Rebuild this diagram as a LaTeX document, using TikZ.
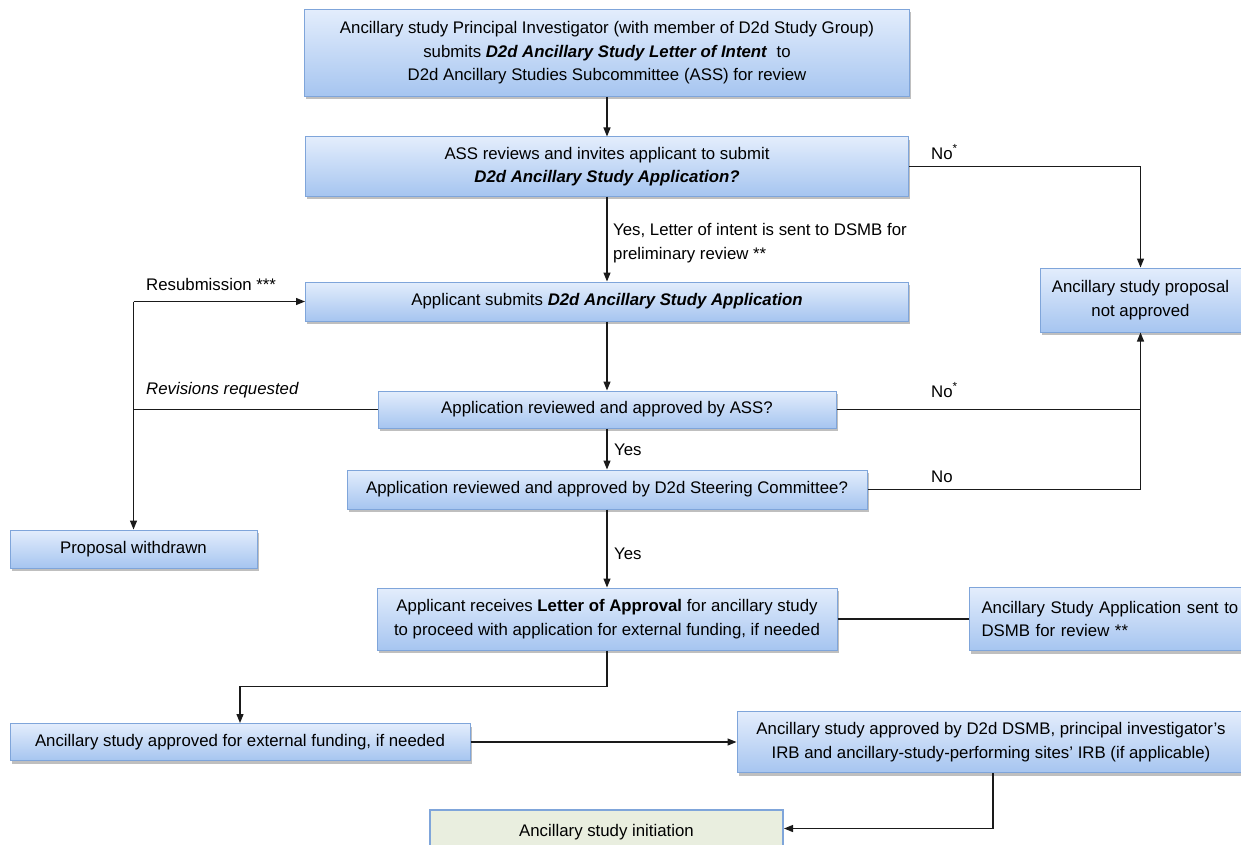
\documentclass[tikz,border=0pt]{standalone}
\usepackage{fontspec}
\setmainfont{Liberation Sans}
\usetikzlibrary{arrows.meta,shadows,calc}
\definecolor{bluetop}{HTML}{E3EDFC}
\definecolor{bluebot}{HTML}{A6C5F0}
\definecolor{blueedge}{HTML}{7FA5DA}
\definecolor{greenfill}{HTML}{E9EEDF}
\definecolor{lineclr}{HTML}{1A1A1A}
\tikzset{
  box/.style={draw=blueedge, line width=1pt, top color=bluetop, bottom color=bluebot,
    align=center, inner sep=2pt, text=black,
    drop shadow={shadow xshift=1.5pt, shadow yshift=-3pt, opacity=0.25, fill=black}},
  greenbox/.style={draw=blueedge, line width=2pt, fill=greenfill, align=center, inner sep=2pt},
  conn/.style={draw=lineclr, line width=1.2pt},
  arr/.style={conn, -{Triangle[length=9pt,width=7pt]}},
  lbl/.style={anchor=west, inner sep=2pt, align=left, text=black},
}
\begin{document}
\begin{tikzpicture}[x=1pt,y=-1pt, font=\fontsize{16.8}{23.5}\selectfont]
\useasboundingbox (0,0) rectangle (1241,845);
\fill[white] (0,0) rectangle (1241,845);

\node[box, minimum width=605pt, minimum height=87pt] (top) at (607,53)
  {Ancillary study Principal Investigator (with member of D2d Study Group)\\
   submits \textbf{\textit{D2d Ancillary Study Letter of Intent}}\ \ to\\
   D2d Ancillary Studies Subcommittee (ASS) for review};
\node[box, minimum width=603pt, minimum height=59pt] (ass) at (607,166.5)
  {ASS reviews and invites applicant to submit\\
   \textbf{\textit{D2d Ancillary Study Application?}}};
\node[box, minimum width=603pt, minimum height=39pt] (apl) at (607,301.5)
  {Applicant submits \textbf{\textit{D2d Ancillary Study Application}}};
\node[box, minimum width=458pt, minimum height=37pt] (rev) at (607,409.5)
  {Application reviewed and approved by ASS?};
\node[box, minimum width=520pt, minimum height=39pt] (sc) at (607,489.5)
  {Application reviewed and approved by D2d Steering Committee?};
\node[box, minimum width=460pt, minimum height=62pt] (loa) at (607,619)
  {Applicant receives \textbf{Letter of Approval} for ancillary study\\
   to proceed with application for external funding, if needed};
\node[box, anchor=west, minimum width=282pt, minimum height=63pt, align=left,
  text width=264pt, inner xsep=12pt] (dsmb) at (969,619)
  {Ancillary Study Application sent to\\DSMB for review **};
\node[box, minimum width=201pt, minimum height=64pt] (na) at (1140.5,300)
  {Ancillary study proposal\\not approved};
\node[box, minimum width=247pt, minimum height=38pt] (pw) at (133.5,549)
  {Proposal withdrawn};
\node[box, minimum width=460pt, minimum height=37pt] (ext) at (240,742)
  {Ancillary study approved for external funding, if needed};
\node[box, minimum width=508pt, minimum height=61pt] (dap) at (991,742)
  {Ancillary study approved by D2d DSMB, principal investigator's\\
   IRB and ancillary-study-performing sites' IRB (if applicable)};
\node[greenbox, minimum width=353pt, minimum height=45pt] (init) at (606.5,832.5)
  {Ancillary study initiation};

% connectors
\draw[arr] (top.south) -- (ass.north);
\draw[arr] (ass.south) -- (apl.north);
\draw[arr] (ass.east) -| (na.north);
\draw[arr] (apl.south) -- (rev.north);
\draw[arr] (rev.south) -- (sc.north);
\draw[arr] (rev.east) -| (na.south);
\draw[conn] (sc.east) -| ($(rev.east -| na.south)$);
\coordinate (rq) at (rev.west -| pw.north);
\coordinate (rs) at (apl.west -| pw.north);
\draw[conn] (rev.west) -- (rq);
\draw[arr] (rs) -- (pw.north);
\draw[arr] (rs) -- (apl.west);
\draw[arr] (sc.south) -- (loa.north);
\draw[conn] (loa.east) -- (dsmb.west);
\draw[arr] (loa.south) -- ++(0,36) -| (ext.north);
\draw[arr] (ext.east) -- (dap.west);
\draw[arr] ($(dap.south)+(2,0)$) |- ($(init.east)+(0,-4)$);

% labels
\node[lbl] (l1) at (611,243) {Yes, Letter of intent is sent to DSMB for\\preliminary review **};
\node[lbl] (l2) at (929,152) {No\textsuperscript{*}};
\node[lbl] (l3) at (144,284) {Resubmission ***};
\node[lbl] (l4) at (144,390) {\textit{Revisions requested}};
\node[lbl] (l5) at (612,450) {Yes};
\node[lbl] (l6) at (612,554) {Yes};
\node[lbl] (l7) at (929,390) {No\textsuperscript{*}};
\node[lbl] (l8) at (929,477) {No};
\end{tikzpicture}
\end{document}
